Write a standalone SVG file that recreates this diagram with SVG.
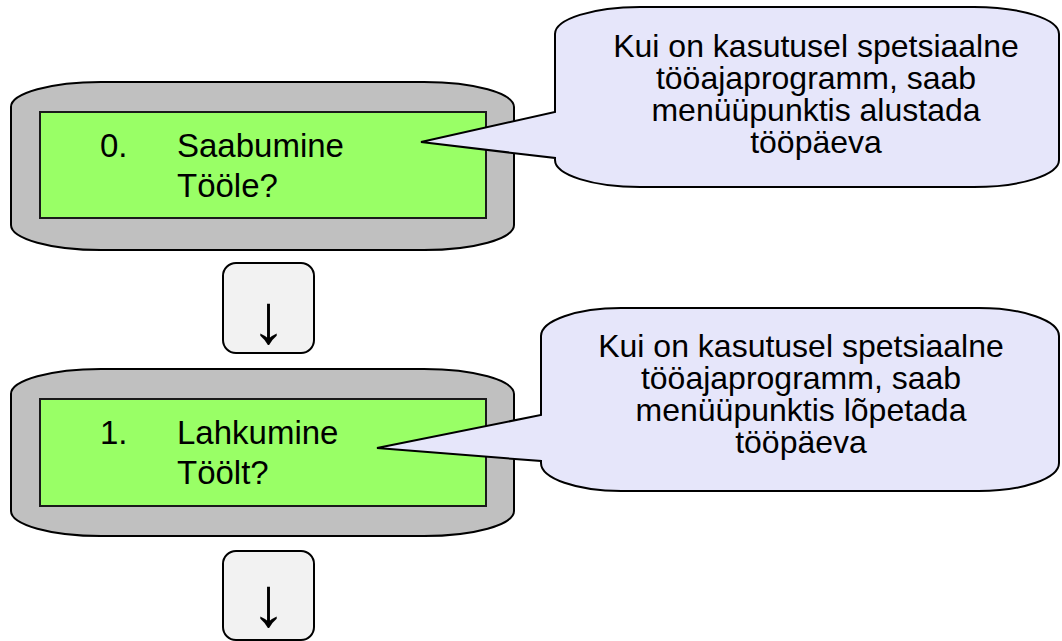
<svg xmlns="http://www.w3.org/2000/svg" width="1062" height="641" viewBox="0 0 1062 641">
  <style>
    .frame { fill: #c0c0c0; stroke: #000; stroke-width: 2; }
    .screen { fill: #99ff66; stroke: #1a1a1a; stroke-width: 2; }
    .menu { font-family: "Liberation Sans", Arial, sans-serif; font-size: 33px; fill: #000; }
    .bubble { fill: #e6e6fa; stroke: #000; stroke-width: 2; stroke-linejoin: miter; }
    .note { font-family: "Liberation Sans", Arial, sans-serif; font-size: 32px; fill: #000; text-anchor: middle; }
    .key { fill: #f2f2f2; stroke: #000; stroke-width: 2; }
    .arrow { font-family: "Liberation Sans", Arial, sans-serif; font-size: 70px; fill: #000; text-anchor: middle; }
  </style>
  <rect width="1062" height="641" fill="#fff"/>

  <g id="node-0">
    <rect class="frame" x="11" y="82" width="503" height="168" rx="90" ry="25"/>
    <rect class="screen" x="40" y="112" width="446" height="106"/>
    <text class="menu" x="100" y="157">0.</text>
    <text class="menu" x="177" y="157">Saabumine</text>
    <text class="menu" x="177" y="197">Tööle?</text>
  </g>

  <g id="node-1">
    <rect class="frame" x="11" y="369" width="503" height="167" rx="90" ry="25"/>
    <rect class="screen" x="40" y="399" width="446" height="107"/>
    <text class="menu" x="100" y="444">1.</text>
    <text class="menu" x="177" y="444">Lahkumine</text>
    <text class="menu" x="177" y="484">Töölt?</text>
  </g>

  <g id="callout-0">
    <path class="bubble" d="M 640,7 H 974 A 85 27 0 0 1 1059,34 V 160 A 85 27 0 0 1 974,187 H 640 A 85 27 0 0 1 555,160 V 158 L 421,142 L 555,112 V 34 A 85 27 0 0 1 640,7 Z"/>
    <text class="note" x="816" y="57">Kui on kasutusel spetsiaalne</text>
    <text class="note" x="816" y="89">tööajaprogramm, saab</text>
    <text class="note" x="816" y="121">menüüpunktis alustada</text>
    <text class="note" x="816" y="153">tööpäeva</text>
  </g>

  <g id="callout-1">
    <path class="bubble" d="M 621,308 H 979 A 80 28 0 0 1 1059,336 V 463 A 80 28 0 0 1 979,491 H 621 A 80 28 0 0 1 541,463 V 461 L 377,448 L 541,415 V 336 A 80 28 0 0 1 621,308 Z"/>
    <text class="note" x="801" y="357">Kui on kasutusel spetsiaalne</text>
    <text class="note" x="801" y="389">tööajaprogramm, saab</text>
    <text class="note" x="801" y="421">menüüpunktis lõpetada</text>
    <text class="note" x="801" y="453">tööpäeva</text>
  </g>

  <g id="connectors">
    <g id="step-arrow-0">
      <rect class="key" x="223" y="263" width="91" height="90" rx="13" ry="13"/>
      <text class="arrow" x="268.5" y="343">↓</text>
    </g>
    <g id="step-arrow-1">
      <rect class="key" x="223" y="551" width="91" height="89" rx="13" ry="13"/>
      <text class="arrow" x="268.5" y="626">↓</text>
    </g>
  </g>
</svg>
